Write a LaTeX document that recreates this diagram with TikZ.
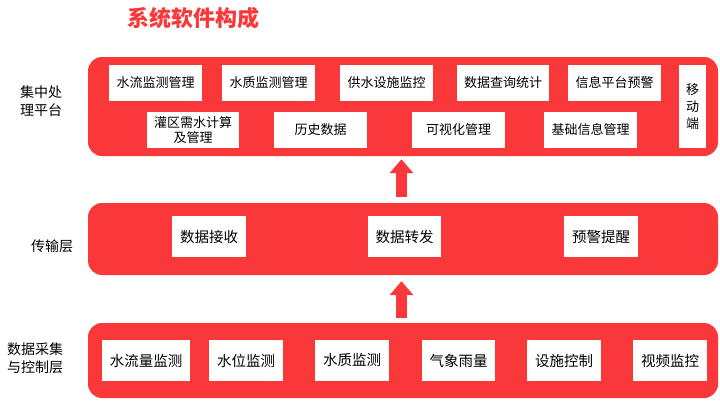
\documentclass[tikz,border=0pt]{standalone}
\usepackage{fontspec}
\setmainfont{Noto Sans CJK SC}
\usetikzlibrary{arrows.meta}
\definecolor{panelred}{RGB}{250,56,58}
\tikzset{
  x=1pt, y=-1pt,
  panel/.style={fill=panelred, draw=none, rounded corners=14pt},
  wbox/.style={fill=white, draw=none, inner sep=0pt, align=center, font=\fontsize{13}{15}\selectfont, text=black},
  wboxb/.style={wbox, font=\fontsize{14.5}{17}\selectfont},
  layerlabel/.style={align=center, font=\fontsize{14}{18}\selectfont, text=black},
  bigarrow/.style={draw=panelred, line width=11pt, -{Triangle[width=23pt,length=14pt]}},
}
\begin{document}
\begin{tikzpicture}
\useasboundingbox (0,0) rectangle (720,400);
% title
\node[font=\fontsize{22}{24}\selectfont\bfseries, text=panelred] (title) at (193.5,18) {系统软件构成};
% panels
\node[panel, minimum width=630pt, minimum height=99pt, inner sep=0pt] (top) at (403,106.5) {};
\node[panel, minimum width=630pt, minimum height=72pt, inner sep=0pt] (mid) at (403,239) {};
\node[panel, minimum width=630pt, minimum height=75pt, inner sep=0pt] (bot) at (403,360.5) {};
% labels
\node[layerlabel] (l1) at (41,101) {集中处\\理平台};
\node[layerlabel] (l2) at (52,246) {传输层};
\node[layerlabel] (l3) at (35,358) {数据采集\\与控制层};
% top boxes row 1
\node[wbox, minimum width=93pt, minimum height=36pt] (t1) at (155.5,83) {水流监测管理};
\node[wbox, minimum width=93pt, minimum height=36pt] (t2) at (268.5,83) {水质监测管理};
\node[wbox, minimum width=93pt, minimum height=36pt] (t3) at (386.5,83) {供水设施监控};
\node[wbox, minimum width=92pt, minimum height=36pt] (t4) at (503,83) {数据查询统计};
\node[wbox, minimum width=93pt, minimum height=36pt] (t5) at (614.5,83) {信息平台预警};
\node[wbox, minimum width=27pt, text width=15pt, minimum height=83pt, font=\fontsize{13}{17}\selectfont] (t6) at (692.5,106.5) {移\\动\\端};
% top boxes row 2
\node[wbox, minimum width=92pt, minimum height=36pt, font=\fontsize{13}{15}\selectfont] (t7) at (193,130) {灌区需水计算\\及管理};
\node[wbox, minimum width=93pt, minimum height=36pt] (t8) at (320.5,130) {历史数据};
\node[wbox, minimum width=93pt, minimum height=36pt] (t9) at (458.5,130) {可视化管理};
\node[wbox, minimum width=93pt, minimum height=36pt] (t10) at (590.5,130) {基础信息管理};
% middle boxes
\node[wboxb, minimum width=74pt, minimum height=41pt] (m1) at (209,236.5) {数据接收};
\node[wboxb, minimum width=73pt, minimum height=41pt] (m2) at (404.5,236.5) {数据转发};
\node[wboxb, minimum width=74pt, minimum height=41pt] (m3) at (601,236.5) {预警提醒};
% bottom boxes
\node[wboxb, minimum width=88pt, minimum height=41pt] (b1) at (146,360.5) {水流量监测};
\node[wboxb, minimum width=74pt, minimum height=41pt] (b2) at (246,360.5) {水位监测};
\node[wboxb, minimum width=74pt, minimum height=41pt] (b3) at (352,360.5) {水质监测};
\node[wboxb, minimum width=73pt, minimum height=41pt] (b4) at (458.5,360.5) {气象雨量};
\node[wboxb, minimum width=74pt, minimum height=41pt] (b5) at (564,360.5) {设施控制};
\node[wboxb, minimum width=74pt, minimum height=41pt] (b6) at (670,360.5) {视频监控};
% arrows
\draw[bigarrow, shorten <=6pt, shorten >=3pt] ([xshift=-1.5pt]mid.north) -- ([xshift=-1.5pt]top.south);
\draw[bigarrow, shorten <=5pt, shorten >=6pt] ([xshift=-1.5pt]bot.north) -- ([xshift=-1.5pt]mid.south);
\end{tikzpicture}
\end{document}
